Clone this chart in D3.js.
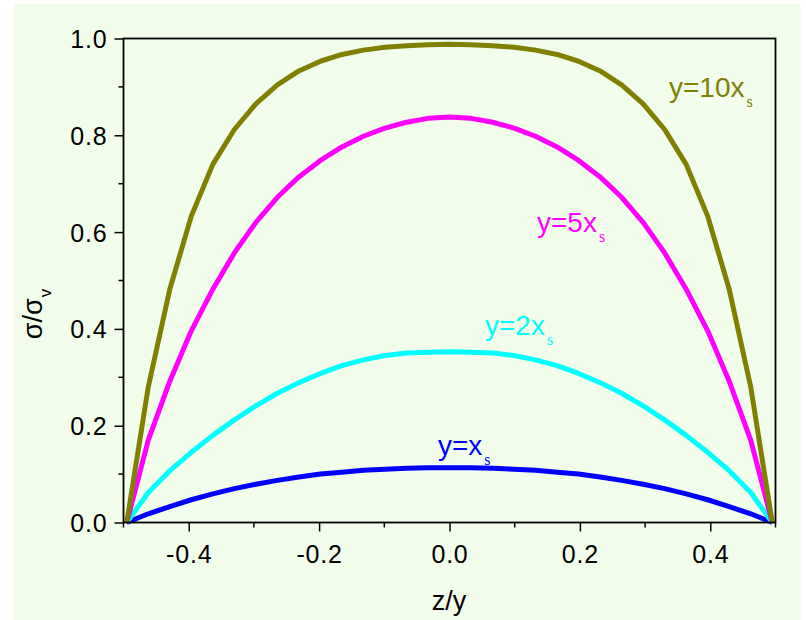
<!DOCTYPE html>
<html><head><meta charset="utf-8">
<script src="https://cdn.jsdelivr.net/npm/d3@7/dist/d3.min.js"></script>
<style>body{margin:0;background:#fff;}svg{display:block;font-family:"Liberation Sans",Arial,sans-serif;}</style>
</head><body><svg id="c" width="806" height="620"></svg>
<script>
const zValues = [-0.495,-0.462,-0.429,-0.396,-0.363,-0.330,-0.297,-0.264,-0.231,-0.198,-0.165,-0.132,-0.099,-0.066,-0.033,0,
  0.033,0.066,0.099,0.132,0.165,0.198,0.231,0.264,0.297,0.330,0.363,0.396,0.429,0.462,0.495];
const halfX1  = [0,0.018,0.033,0.047,0.059,0.070,0.079,0.087,0.094,0.100,0.104,0.108,0.110,0.112,0.113,0.113];
const halfX2  = [0,0.062,0.107,0.145,0.180,0.212,0.241,0.267,0.289,0.308,0.324,0.336,0.345,0.350,0.352,0.353];
const halfX5  = [0,0.170,0.292,0.396,0.482,0.557,0.620,0.672,0.714,0.748,0.776,0.798,0.815,0.827,0.835,0.838];
const halfX10 = [0,0.280,0.482,0.633,0.740,0.812,0.865,0.904,0.933,0.953,0.967,0.976,0.982,0.985,0.987,0.988];
const sym = h => h.concat(h.slice(0, -1).reverse());
const seriesNames = ["y=x", "y=2x", "y=5x", "y=10x"];
const seriesValues = [sym(halfX1), sym(halfX2), sym(halfX5), sym(halfX10)];
const seriesColors = ["#0000ff", "#00ffff", "#ff00ff", "#808000"];
const xTickValues = [-0.4,-0.2,0.0,0.2,0.4];
const yTickValues = [0.0,0.2,0.4,0.6,0.8,1.0];

const svg = d3.select("#c");
svg.append("rect").attr("x",14).attr("y",4).attr("width",787).attr("height",616).attr("fill","#f3fdec");

const L=123.5, R=775.5, T=38.5, B=522.5;
const x = d3.scaleLinear().domain([-0.5,0.5]).range([L,R]);
const y = d3.scaleLinear().domain([0,1]).range([B,T]);
const fmt = d => d3.format(".1f")(d).replace("\u2212","-");

// minor ticks
const xMinor = [-0.5,-0.3,-0.1,0.1,0.3,0.5];
const yMinor = [0.1,0.3,0.5,0.7,0.9];
const g = svg.append("g");
g.selectAll(".xm").data(xMinor).join("line").attr("x1",d=>x(d)).attr("x2",d=>x(d)).attr("y1",B).attr("y2",B+5).attr("stroke","#000").attr("stroke-width",1.5);
g.selectAll(".ym").data(yMinor).join("line").attr("y1",d=>y(d)).attr("y2",d=>y(d)).attr("x1",L).attr("x2",L-5).attr("stroke","#000").attr("stroke-width",1.5);

const xAxis = svg.append("g").attr("transform",`translate(0,${B})`)
  .call(d3.axisBottom(x).tickValues(xTickValues).tickFormat(fmt).tickSize(9).tickSizeOuter(0));
const yAxis = svg.append("g").attr("transform",`translate(${L},0)`)
  .call(d3.axisLeft(y).tickValues(yTickValues).tickFormat(fmt).tickSize(9).tickSizeOuter(0));
[xAxis,yAxis].forEach(a=>{
  a.select(".domain").remove();
  a.selectAll(".tick line").attr("stroke","#000").attr("stroke-width",1.5);
  a.selectAll(".tick text").attr("fill","#000").style("font-size","25px").style("letter-spacing","0.8px")
   .style("font-family","'Liberation Sans',Arial,sans-serif");
});
xAxis.selectAll(".tick text").attr("dy",null).attr("y",40);
yAxis.selectAll(".tick text").attr("x",-16).attr("dy","0.36em");

// curves
const line = d3.line().x((d,i)=>x(zValues[i])).y(d=>y(d));
svg.append("g").selectAll("path").data(seriesValues).join("path")
  .attr("d",line).attr("fill","none").attr("stroke",(d,i)=>seriesColors[i])
  .attr("stroke-width",5).attr("stroke-linejoin","round");

// frame
svg.append("rect").attr("x",L).attr("y",T).attr("width",R-L).attr("height",B-T)
  .attr("fill","none").attr("stroke","#000").attr("stroke-width",1.8);

// labels
const labelPos = [[438,455],[485,335],[537,232],[669,97]];
seriesNames.forEach((n,i)=>{
  const t = svg.append("text").attr("x",labelPos[i][0]).attr("y",labelPos[i][1])
    .attr("fill",seriesColors[i]).style("font-size","28px");
  t.append("tspan").text(n);
  t.append("tspan").text("s").attr("dy",10).style("font-family","'Liberation Serif','Times New Roman',serif").style("font-size","16px").attr("dx",2);
});

// axis titles
svg.append("text").attr("x",449).attr("y",610).attr("text-anchor","middle").style("font-size","27px").attr("fill","#000").text("z/y");
const yt = svg.append("text").attr("transform","translate(42,314) rotate(-90)").attr("text-anchor","middle").style("font-size","27px").attr("fill","#000");
yt.append("tspan").text("σ/σ");
yt.append("tspan").text("v").attr("dy",9).style("font-size","17px").attr("dx",1);
</script></body></html>
